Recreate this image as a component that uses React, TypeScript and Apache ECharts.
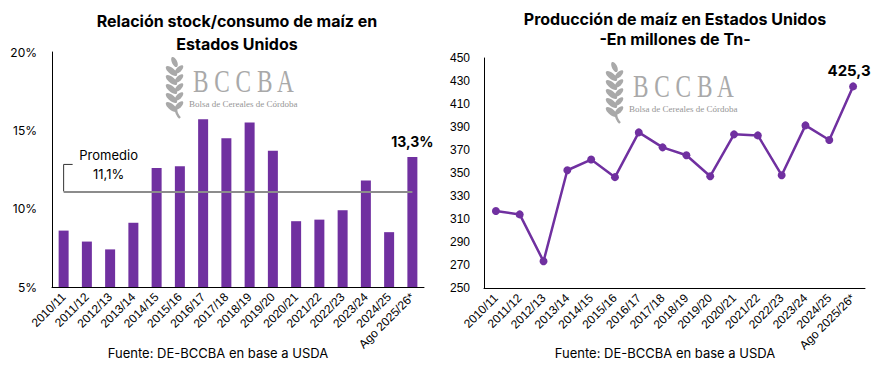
import React, { useEffect, useRef } from 'react';
import * as echarts from 'echarts';

const categories = [
  '2010/11', '2011/12', '2012/13', '2013/14', '2014/15', '2015/16', '2016/17', '2017/18',
  '2018/19', '2019/20', '2020/21', '2021/22', '2022/23', '2023/24', '2024/25', 'Ago 2025/26*',
];
const stockRatio = [8.6, 7.9, 7.4, 9.1, 12.6, 12.7, 15.7, 14.5, 15.5, 13.7, 9.2, 9.3, 9.9, 11.8, 8.5, 13.3];
const stockAverage = 11.1;
const stockTicks = [5, 10, 15, 20];
const production = [317.0, 314.0, 273.2, 352.4, 361.7, 346.4, 385.3, 372.3, 365.4, 347.2, 383.6, 382.7, 348.1, 391.4, 378.7, 425.3];
const productionTicks = [250, 270, 290, 310, 330, 350, 370, 390, 410, 430, 450];

const PURPLE = '#7030A0';
const FONT = 'Inter, "Liberation Sans", sans-serif';
const LABEL_FONT = '"Liberation Sans", Arial, sans-serif';
const fmt = (v: number) => v.toFixed(1).replace('.', ',');

function wheat(x: number, y: number) {
  const children: any[] = [];
  const fill = '#a9a9a9';
  for (let i = 0; i < 5; i++) {
    const cy = 14 + i * 9;
    children.push({
      type: 'ellipse', x: 6.5, y: cy, rotation: -Math.PI / 4.5,
      shape: { cx: 0, cy: 0, rx: 7, ry: 3 }, style: { fill },
    });
    children.push({
      type: 'ellipse', x: 14, y: cy - 1.5, rotation: Math.PI / 4,
      shape: { cx: 0, cy: 0, rx: 5.5, ry: 2.6 }, style: { fill },
    });
  }
  children.push({
    type: 'ellipse', x: 9.5, y: 5, rotation: -Math.PI / 2.8,
    shape: { cx: 0, cy: 0, rx: 5.5, ry: 2.6 }, style: { fill },
  });
  children.push({
    type: 'bezierCurve',
    shape: { x1: 11, y1: 52, x2: 15, y2: 61, cpx1: 11, cpy1: 56, cpx2: 13, cpy2: 59 },
    style: { stroke: fill, lineWidth: 2.4, fill: 'none' },
  });
  return { type: 'group', x, y, children, silent: true };
}

function logo(dx: number, dy: number) {
  return [
    wheat(165 + dx, 57 + dy),
    {
      type: 'text', x: 193 + dx, y: 82 + dy, scaleX: 0.75, silent: true,
      style: {
        text: 'B C C B A', font: '31px "Liberation Serif", serif', fill: '#a9a9a9',
        textAlign: 'left', textVerticalAlign: 'middle',
      },
    },
    {
      type: 'text', x: 189 + dx, y: 104 + dy, silent: true,
      style: {
        text: 'Bolsa de Cereales de Córdoba', font: '9px "Liberation Serif", serif', fill: '#959595',
        textAlign: 'left', textVerticalAlign: 'middle',
      },
    },
  ];
}

function textEl(text: string, x: number, y: number, font: string, align = 'center') {
  return {
    type: 'text', x, y, silent: true,
    style: { text, font, fill: '#000', textAlign: align, textVerticalAlign: 'middle' },
  };
}

export default function App() {
  const ref = useRef<HTMLDivElement>(null);
  useEffect(() => {
    if (!ref.current) return;
    const chart = echarts.init(ref.current, null, { renderer: 'svg' });
    const last = categories.length - 1;
    const xLabel = { rotate: 45, interval: 0, fontSize: 12, color: '#000', fontFamily: LABEL_FONT, margin: 8 };
    const option: any = {
      animation: false,
      backgroundColor: '#ffffff',
      grid: [
        { left: 52, top: 52, width: 372, height: 235, outerBoundsMode: 'none' },
        { left: 484, top: 58, width: 381, height: 230, outerBoundsMode: 'none' },
      ],
      xAxis: [
        {
          type: 'category', gridIndex: 0, data: categories,
          axisLine: { lineStyle: { color: '#000', width: 1 } },
          axisTick: { show: false },
          axisLabel: xLabel,
        },
        {
          type: 'category', gridIndex: 1, data: categories,
          axisLine: { lineStyle: { color: '#000', width: 1 } },
          axisTick: { show: false },
          axisLabel: xLabel,
        },
      ],
      yAxis: [
        {
          type: 'value', gridIndex: 0, min: stockTicks[0], max: stockTicks[stockTicks.length - 1], interval: 5,
          axisLine: { show: true, lineStyle: { color: '#000', width: 1 } },
          axisTick: { show: false },
          splitLine: { show: false },
          axisLabel: { formatter: '{value}%', fontSize: 12, color: '#000', fontFamily: FONT, margin: 15 },
        },
        {
          type: 'value', gridIndex: 1, min: productionTicks[0], max: productionTicks[productionTicks.length - 1],
          axisLine: { show: true, lineStyle: { color: '#000', width: 1 } },
          axisTick: { show: false },
          splitLine: { show: false },
          axisLabel: { customValues: productionTicks, fontSize: 12, color: '#000', fontFamily: LABEL_FONT, margin: 14 },
        },
      ],
      series: [
        {
          type: 'bar', xAxisIndex: 0, yAxisIndex: 0, barWidth: 10,
          itemStyle: { color: PURPLE },
          data: stockRatio.map((v, i) => ({
            value: v,
            label: i === last ? {
              show: true, position: 'top', distance: 8, formatter: fmt(v) + '%',
              fontSize: 14, fontWeight: 'bold', color: '#000', fontFamily: FONT,
            } : { show: false },
          })),
          markLine: {
            silent: true, symbol: 'none',
            lineStyle: { color: '#8c8c8c', width: 2, type: 'solid' },
            label: { show: false },
            data: [[
              { coord: [categories[0], stockAverage] },
              { coord: [categories[last], stockAverage] },
            ]],
          },
        },
        {
          type: 'line', xAxisIndex: 1, yAxisIndex: 1,
          symbol: 'circle', symbolSize: 8,
          lineStyle: { color: PURPLE, width: 2.5 },
          itemStyle: { color: PURPLE },
          data: production.map((v, i) => ({
            value: v,
            label: i === last ? {
              show: true, position: 'top', distance: 4, offset: [-4, 0], formatter: fmt(v),
              fontSize: 15, fontWeight: 'bold', color: '#000', fontFamily: FONT,
            } : { show: false },
          })),
        },
      ],
    };
    chart.setOption(option);

    const p = chart.convertToPixel({ gridIndex: 0 } as any, [0, stockAverage]) as number[];
    const bx = p[0];
    const by = p[1];
    const graphics: any[] = [
      textEl('Relación stock/consumo de maíz en', 237, 21, `bold 16px ${FONT}`),
      textEl('Estados Unidos', 237, 44, `bold 16px ${FONT}`),
      textEl('Producción de maíz en Estados Unidos', 675, 19, `bold 16px ${FONT}`),
      textEl('-En millones de Tn-', 675, 39, `bold 16px ${FONT}`),
      textEl('Fuente: DE-BCCBA en base a USDA', 218, 353, `13px ${FONT}`),
      textEl('Fuente: DE-BCCBA en base a USDA', 665, 353, `13px ${FONT}`),
      ...logo(0, 0),
      ...logo(440, 5),
      {
        type: 'polyline', silent: true,
        shape: { points: [[bx + 9, by - 27], [bx, by - 27], [bx, by]] },
        style: { stroke: '#333', lineWidth: 1, fill: 'none' },
      },
      textEl('Promedio', bx + 45, by - 36, `13px ${FONT}`),
      textEl(fmt(stockAverage) + '%', bx + 45, by - 17, `13px ${FONT}`),
    ];
    chart.setOption({ graphic: graphics });
    return () => chart.dispose();
  }, []);
  return (
    <div
      ref={ref}
      style={{ position: 'fixed', left: 0, top: 0, width: 892, height: 373, background: '#fff' }}
    />
  );
}
